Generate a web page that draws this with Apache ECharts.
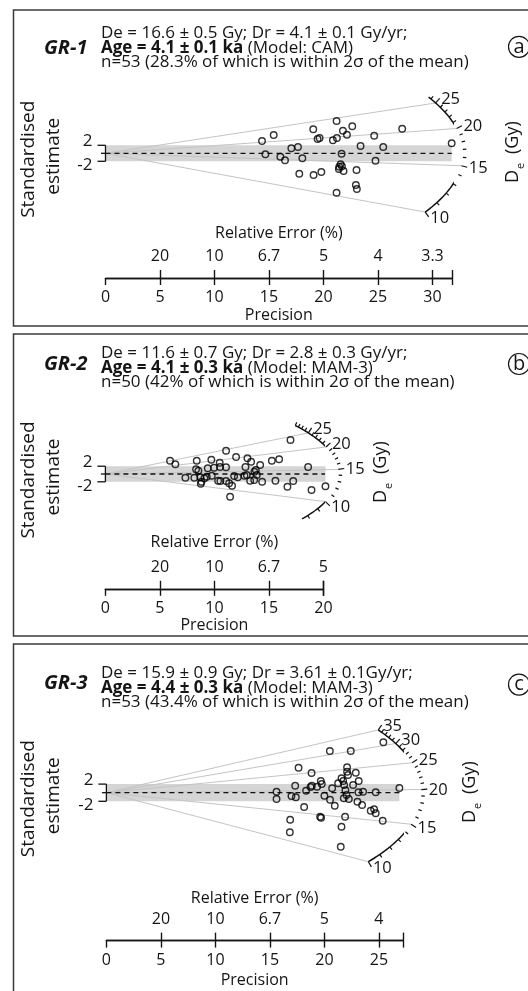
<!DOCTYPE html>
<html><head><meta charset="utf-8">
<script src="https://cdn.jsdelivr.net/npm/echarts@6/dist/echarts.min.js"></script>
<style>html,body{margin:0;padding:0;background:#fff}#c{width:528px;height:991px}</style>
</head><body><div id="c"></div>
<script>
// ================= DATA =================
// GR-1 (radial plot: x = precision, y = standardised estimate)
const gr1Precision = [14.36,15.43,14.67,16.04,16.47,17.05,17.66,18.06,17.78,19.06,19.46,19.64,19.09,19.8,21.2,20.86,21.23,21.78,22.15,22.64,21.66,21.57,21.45,21.69,21.84,21.41,21.2,23.03,22.97,23.06,23.4,24.65,24.77,25.48,27.22,31.76];
const gr1Std = [3.08,4.58,-0.25,-0.85,-1.75,1.25,1.58,-1.25,-5.1,6.0,3.58,3.83,-5.43,-4.68,8.08,3.25,3.83,5.65,4.65,6.75,-0.1,-2.75,-3.35,-3.25,-4.43,-3.93,-9.85,-4.18,-7.93,-8.93,1.83,4.4,-1.85,1.58,6.15,2.5];
const gr1DeTicks = [10,15,20,25];
const gr1Central = 16.5;
const gr1PrecTicks = [0,5,10,15,20,25,30];
const gr1RelTicks = [5,10,15,20,25,30];
const gr1RelLabels = ['20','10','6.7','5','4','3.3'];
const gr1Header = ['De = 16.6 \u00b1 0.5 Gy; Dr = 4.1 \u00b1 0.1 Gy/yr;', 'Age = 4.1 \u00b1 0.1 ka', ' (Model: CAM)', 'n=53 (28.3% of which is within 2\u03c3 of the mean)'];

// GR-2
const gr2Precision = [5.93,6.42,7.34,8.16,8.38,8.32,8.53,8.71,8.81,8.75,9.08,9.30,9.39,9.72,9.76,9.97,10.34,10.55,10.49,10.52,11.07,11.07,11.07,11.35,11.62,11.44,11.81,12.15,11.99,12.76,12.85,13.03,12.97,13.28,13.37,13.67,13.8,13.89,13.65,14.2,14.38,15.27,15.94,15.6,16.7,17.23,16.98,18.6,18.91,20.19];
const gr2Std = [3.41,2.49,-0.95,-0.95,3.41,1.21,0.85,-0.85,-1.97,-2.49,-1.10,-0.69,1.46,3.67,-0.44,1.62,-1.72,-1.79,2.90,1.79,5.97,1.72,-1.79,-2.38,-3.00,-5.82,-0.51,-0.85,4.36,-0.44,1.79,4.03,-0.26,-1.72,3.15,0.59,1.03,-0.26,-1.54,2.31,-1.97,3.41,3.77,-1.72,-3.26,-1.79,8.72,1.79,-4.10,-3.15];
const gr2DeTicks = [10,15,20,25];
const gr2Central = 14.2;
const gr2PrecTicks = [0,5,10,15,20];
const gr2RelTicks = [5,10,15,20];
const gr2RelLabels = ['20','10','6.7','5'];
const gr2Header = ['De = 11.6 \u00b1 0.7 Gy; Dr = 2.8 \u00b1 0.3 Gy/yr;', 'Age = 4.1 \u00b1 0.3 ka', ' (Model: MAM-3)', 'n=50 (42% of which is within 2\u03c3 of the mean)'];

// GR-3
const gr3Precision = [15.61,15.61,16.86,16.83,16.98,17.38,17.32,17.63,18.14,18.32,18.73,18.85,18.82,19.33,19.67,19.76,19.61,19.7,20.0,20.5,20.52,20.71,20.95,21.26,21.57,21.57,21.5,21.72,21.81,21.93,21.78,21.9,22.03,22.08,22.08,22.17,22.24,22.42,22.63,22.88,23.03,23.15,23.12,23.46,23.55,24.25,24.56,24.71,24.71,25.35,25.41,26.88];
const gr3Std = [0.23,-1.47,-6.28,-9.21,-0.77,-1.07,1.63,5.81,-3.33,0.47,1.33,1.63,4.58,1.40,2.72,2.02,-5.58,-5.81,-0.70,9.70,-1.63,1.02,-3.02,2.19,3.35,-7.91,-12.56,2.72,1.79,0.56,-1.30,-5.58,-0.53,5.91,4.88,4.12,-1.47,9.70,1.79,4.65,-2.09,2.72,0.09,-2.86,0.23,-4.19,-3.86,-4.79,0.09,-6.51,11.72,1.09];
const gr3DeTicks = [10,15,20,25,30,35];
const gr3Central = 19.5;
const gr3PrecTicks = [0,5,10,15,20,25];
const gr3RelTicks = [5,10,15,20,25];
const gr3RelLabels = ['20','10','6.7','5','4'];
const gr3Header = ['De = 15.9 \u00b1 0.9 Gy; Dr = 3.61 \u00b1 0.1Gy/yr;', 'Age = 4.4 \u00b1 0.3 ka', ' (Model: MAM-3)', 'n=53 (43.4% of which is within 2\u03c3 of the mean)'];

const stdTicks = [2, 0, -2];
const stdTickLabels = ['2', '', '-2'];
const sampleNames = ['GR-1','GR-2','GR-3'];
const panelLetters = ['a','b','c'];

// ================= LAYOUT =================
const FONT = '"Open Sans", "Noto Sans", sans-serif';
const INK = '#151515';
const panels = [
  {prec:gr1Precision, std:gr1Std, deTicks:gr1DeTicks, central:gr1Central, precTicks:gr1PrecTicks, relTicks:gr1RelTicks, relLabels:gr1RelLabels, header:gr1Header,
   R:32.8, arc:[10,26.5], precMax:31.8,
   L:{ox:105.5, oy:153.3, axisY:278, sx:10.9, sy:4.0, zTop:16, box:[10,326], head:[33.5,48.1,62.6], titleY:48, letterY:46.8, precGap:29, relGap:36.6, de:[513,183]}},
  {prec:gr2Precision, std:gr2Std, deTicks:gr2DeTicks, central:gr2Central, precTicks:gr2PrecTicks, relTicks:gr2RelTicks, relLabels:gr2RelLabels, header:gr2Header,
   R:21.4, arc:[7.5,29], precMax:20,
   L:{ox:105.4, oy:474, axisY:588.8, sx:10.9, sy:3.9, zTop:16, box:[334,636], head:[353.5,368.2,382], titleY:364, letterY:364, precGap:27, relGap:38.5, de:[381,503]}},
  {prec:gr3Precision, std:gr3Std, deTicks:gr3DeTicks, central:gr3Central, precTicks:gr3PrecTicks, relTicks:gr3RelTicks, relLabels:gr3RelLabels, header:gr3Header,
   R:28.9, arc:[10,35], precMax:27.2,
   L:{ox:106.4, oy:792.7, axisY:940.6, sx:10.9, sy:4.3, zTop:16, box:[644,1000], head:[673.5,688,702], titleY:683, letterY:684.6, precGap:31.5, relGap:34.4, de:[469.5,823]}}
];

function arcPoint(v, c, R) {
  const s = Math.log(v / c);
  const x = R / Math.sqrt(1 + s * s);
  return [x, s * x];
}

const chart = echarts.init(document.getElementById('c'), null, {renderer:'canvas', width:528, height:991});
const option = {animation:false, backgroundColor:'#fff', grid:[], xAxis:[], yAxis:[], series:[], graphic:[]};

panels.forEach((P, i) => {
  const L = P.L;
  const gTop = L.oy - L.zTop * L.sy;
  const gW = P.precMax * L.sx;
  const gi = 2 * i;
  option.grid.push({left:L.ox, top:gTop, width:gW, height:L.axisY - gTop});
  option.grid.push({left:L.ox, top:L.axisY, width:gW, height:20});
  const axisStyle = {color:INK, width:1.4};
  option.xAxis.push({gridIndex:gi, type:'value', min:0, max:P.precMax, position:'bottom',
    axisLine:{show:true, onZero:false, lineStyle:axisStyle},
    axisTick:{show:true, customValues:P.precTicks.concat([P.precMax]), length:7, lineStyle:axisStyle},
    axisLabel:{customValues:P.precTicks, margin:11.5, fontSize:16, color:INK, fontFamily:FONT},
    splitLine:{show:false},
    name:'Precision', nameLocation:'middle', nameGap:L.precGap, nameTextStyle:{fontSize:16, color:INK, fontFamily:FONT}});
  const relFmt = (v) => { const k = P.relTicks.findIndex(t => Math.abs(t - v) < 1e-6); return k >= 0 ? P.relLabels[k] : ''; };
  option.xAxis.push({gridIndex:gi + 1, type:'value', min:0, max:P.precMax, position:'top',
    axisLine:{show:true, onZero:false, lineStyle:axisStyle},
    axisTick:{show:true, customValues:P.relTicks.concat([P.precMax]), length:8, lineStyle:axisStyle},
    axisLabel:{customValues:P.relTicks, formatter:relFmt, margin:13.5, fontSize:16, color:INK, fontFamily:FONT},
    splitLine:{show:false},
    name:'Relative Error (%)', nameLocation:'middle', nameGap:L.relGap, nameTextStyle:{fontSize:16, color:INK, fontFamily:FONT}});
  option.yAxis.push({gridIndex:gi, type:'value', min:-(L.axisY - L.oy) / L.sy, max:L.zTop, show:false});
  option.yAxis.push({gridIndex:gi + 1, type:'value', min:0, max:1, show:false});

  const pMax = Math.max(...P.prec);
  // grey +-2 band
  option.series.push({type:'custom', xAxisIndex:gi, yAxisIndex:gi, z:1, silent:true,
    data:[[0, 2, pMax, -2]],
    renderItem:(params, api) => {
      const a = api.coord([api.value(0), api.value(1)]);
      const b = api.coord([api.value(2), api.value(3)]);
      return {type:'rect', shape:{x:a[0], y:a[1], width:b[0] - a[0], height:b[1] - a[1]}, style:{fill:'#d5d5d5'}};
    }});
  // radial lines
  option.series.push({type:'custom', xAxisIndex:gi, yAxisIndex:gi, z:2, silent:true,
    data:P.deTicks.map(v => [v, 0]),
    renderItem:(params, api) => {
      const o = api.coord([0, 0]);
      const p = api.coord(arcPoint(api.value(0), P.central, P.R));
      return {type:'line', shape:{x1:o[0], y1:o[1], x2:p[0], y2:p[1]}, style:{stroke:'#c4c4c4', lineWidth:1}};
    }});
  // dashed central line
  option.series.push({type:'line', xAxisIndex:gi, yAxisIndex:gi, z:3, silent:true, clip:false, showSymbol:false,
    data:[[0, 0], [pMax, 0]], lineStyle:{color:'#111', width:1.3, type:[5, 4]}});
  // arc (De axis)
  const arcData = [];
  const N = 160;
  for (let k = 0; k <= N; k++) {
    const v = P.arc[0] * Math.pow(P.arc[1] / P.arc[0], k / N);
    arcData.push(arcPoint(v, P.central, P.R));
  }
  option.series.push({type:'line', xAxisIndex:gi, yAxisIndex:gi, z:4, silent:true, clip:false, showSymbol:false,
    data:arcData, lineStyle:{color:'#111', width:1.5}});
  // arc ticks + labels
  const tickData = [];
  for (let v = Math.ceil(P.arc[0]); v <= Math.floor(P.arc[1]); v++) tickData.push([v, P.deTicks.indexOf(v) >= 0 ? 1 : 0]);
  option.series.push({type:'custom', xAxisIndex:gi, yAxisIndex:gi, z:4, silent:true, data:tickData,
    renderItem:(params, api) => {
      const v = api.value(0), major = api.value(1);
      const p = api.coord(arcPoint(v, P.central, P.R));
      const pa = api.coord(arcPoint(v * 1.01, P.central, P.R));
      const pb = api.coord(arcPoint(v / 1.01, P.central, P.R));
      let tx = pa[0] - pb[0], ty = pa[1] - pb[1];
      const tl = Math.hypot(tx, ty); tx /= tl; ty /= tl;
      let nx = ty, ny = -tx;
      const o = api.coord([0, 0]);
      if ((p[0] - o[0]) * nx + (p[1] - o[1]) * ny < 0) { nx = -nx; ny = -ny; }
      const len = major ? 6 : 3.5;
      const ch = [{type:'line', shape:{x1:p[0], y1:p[1], x2:p[0] + nx * len, y2:p[1] + ny * len}, style:{stroke:'#111', lineWidth:1.2}}];
      if (major) ch.push({type:'text', x:p[0] + nx * len + 1.5, y:p[1] + ny * len + 1,
        style:{text:String(v), fill:INK, font:'16.5px ' + FONT, align:'left', verticalAlign:'middle'}});
      return {type:'group', children:ch};
    }});
  // standardised-estimate bracket (+-2)
  option.series.push({type:'custom', xAxisIndex:gi, yAxisIndex:gi, z:4, silent:true,
    data:stdTicks.map((t, k) => [0, t, k]),
    renderItem:(params, api) => {
      const t = api.value(1);
      const lab = stdTickLabels[api.value(2)];
      const p = api.coord([0, t]);
      const o = api.coord([0, 0]);
      const len = t === 0 ? 4.5 : 8;
      const ch = [
        {type:'line', shape:{x1:p[0] - len, y1:p[1], x2:p[0], y2:p[1]}, style:{stroke:'#111', lineWidth:1.3}},
        {type:'line', shape:{x1:p[0], y1:p[1], x2:o[0], y2:o[1]}, style:{stroke:'#111', lineWidth:1.3}}
      ];
      if (lab) ch.push({type:'text', x:p[0] - 13, y:p[1] + (t > 0 ? -4 : 4),
        style:{text:lab, fill:INK, font:'17px ' + FONT, align:'right', verticalAlign:'middle'}});
      return {type:'group', children:ch};
    }});
  // data points
  option.series.push({type:'scatter', xAxisIndex:gi, yAxisIndex:gi, z:5, clip:false, silent:true,
    data:P.prec.map((p, k) => [p, P.std[k]]), symbol:'circle', symbolSize:6.5,
    itemStyle:{color:'rgba(255,255,255,0)', borderColor:'#000', borderWidth:1.4}});

  // ---------- decorations / texts ----------
  option.graphic.push({type:'rect', shape:{x:13.5, y:L.box[0], width:540, height:L.box[1] - L.box[0]},
    style:{fill:null, stroke:'#3a3a3a', lineWidth:1.5}, z:0});
  option.graphic.push({type:'text', x:44, y:L.titleY,
    style:{text:sampleNames[i], fill:INK, font:'italic bold 20px ' + FONT, align:'left', verticalAlign:'middle'}});
  const HF = '17px ' + FONT;
  option.graphic.push({type:'text', x:101, y:L.head[0],
    style:{text:P.header[0], fill:INK, font:HF, align:'left', verticalAlign:'middle'}});
  option.graphic.push({type:'text', x:101, y:L.head[1],
    style:{text:'{b|' + P.header[1] + '}' + P.header[2], fill:INK, font:HF, align:'left', verticalAlign:'middle',
      rich:{b:{fontWeight:'bold', fontSize:17, fontFamily:FONT, fill:INK}}}});
  option.graphic.push({type:'text', x:101, y:L.head[2],
    style:{text:P.header[3], fill:INK, font:HF, align:'left', verticalAlign:'middle'}});
  option.graphic.push({type:'circle', shape:{cx:519, cy:L.letterY, r:10.5}, style:{fill:null, stroke:INK, lineWidth:1.2}});
  option.graphic.push({type:'text', x:519, y:L.letterY,
    style:{text:panelLetters[i], fill:INK, font:'20px ' + FONT, align:'center', verticalAlign:'middle'}});
  option.graphic.push({type:'text', x:29, y:L.oy + 6, rotation:Math.PI / 2,
    style:{text:'Standardised', fill:INK, font:'19px ' + FONT, align:'center', verticalAlign:'middle'}});
  option.graphic.push({type:'text', x:54, y:L.oy + 3, rotation:Math.PI / 2,
    style:{text:'estimate', fill:INK, font:'19px ' + FONT, align:'center', verticalAlign:'middle'}});
  option.graphic.push({type:'group', x:L.de[0], y:L.de[1], rotation:Math.PI / 2, children:[
    {type:'text', x:0, y:0, style:{text:'D', fill:INK, font:'18px ' + FONT, align:'left', verticalAlign:'middle'}},
    {type:'text', x:14, y:8, style:{text:'e', fill:INK, font:'11px ' + FONT, align:'left', verticalAlign:'middle'}},
    {type:'text', x:29, y:0, style:{text:'(Gy)', fill:INK, font:'18px ' + FONT, align:'left', verticalAlign:'middle'}}
  ]});
});

chart.setOption(option);
</script>
</body></html>
